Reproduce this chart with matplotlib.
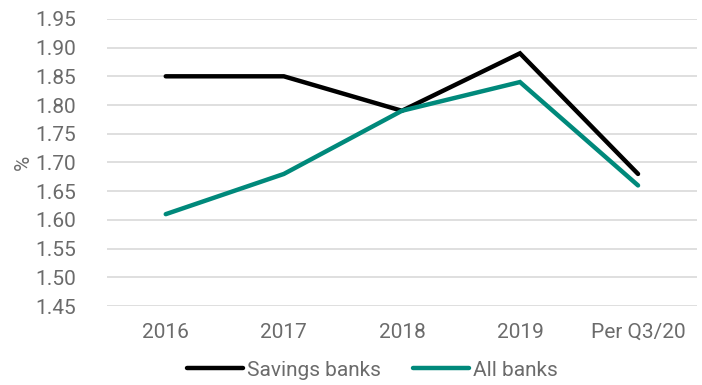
import matplotlib
matplotlib.use("Agg")
from matplotlib import pyplot as plt

# data
periods = ["2016", "2017", "2018", "2019", "Per Q3/20"]
savings_banks = [1.85, 1.85, 1.79, 1.89, 1.68]
all_banks = [1.61, 1.68, 1.79, 1.84, 1.66]
y_ticks = [1.45, 1.50, 1.55, 1.60, 1.65, 1.70, 1.75, 1.80, 1.85, 1.90, 1.95]

plt.rcParams['font.family'] = ['Roboto', 'DejaVu Sans']
text_col = '#6b6b6b'

fig = plt.figure(figsize=(7.02, 3.85), dpi=100)
ax = fig.add_axes([0.152, 0.205, 0.841, 0.746])

x = list(range(len(periods)))
ax.plot(x, savings_banks, color='black', lw=3.2, label='Savings banks', solid_capstyle='round', solid_joinstyle='miter')
ax.plot(x, all_banks, color='#00897B', lw=3.2, label='All banks', solid_capstyle='round', solid_joinstyle='miter')

ax.set_xlim(-0.5, len(periods) - 0.5)
ax.set_ylim(1.45, 1.95)
ax.set_yticks(y_ticks)
ax.set_yticklabels(["%.2f" % v for v in y_ticks])
ax.set_xticks(x)
ax.set_xticklabels(periods)
ax.grid(axis='y', color='#d9d9d9', lw=1.2)
ax.set_axisbelow(True)
for s in ax.spines.values():
    s.set_visible(False)
ax.tick_params(length=0, labelsize=15, colors=text_col, pad=12)
ax.tick_params(axis='y', pad=22)
ax.set_ylabel('%', fontsize=15, color=text_col, labelpad=2)

ax.legend(loc='upper center', bbox_to_anchor=(0.45, -0.125), ncol=2, frameon=False,
          fontsize=15, labelcolor=text_col, handlelength=2.7, handletextpad=0.2,
          columnspacing=1.5)

fig.savefig('out.png', dpi=100)
